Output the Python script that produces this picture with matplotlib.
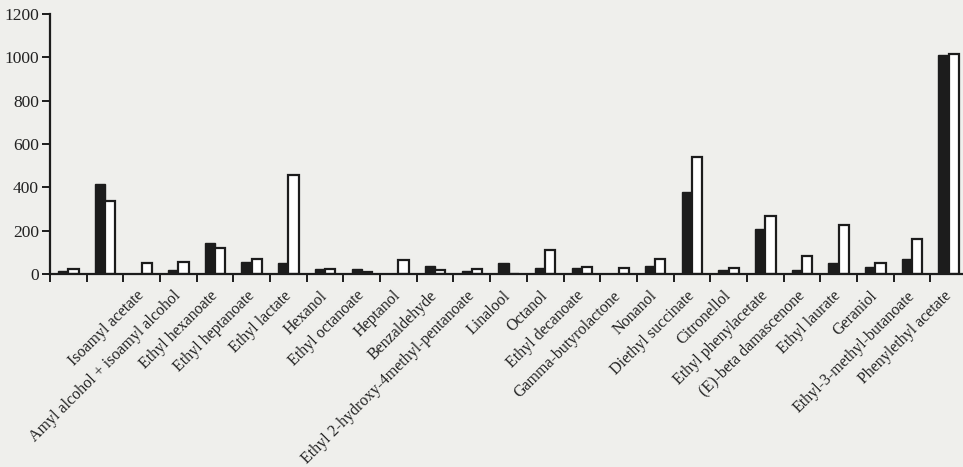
import matplotlib
matplotlib.use("Agg")
import matplotlib.pyplot as plt
import numpy as np

# Aroma compounds (the first two groups carry no name on the axis)
categories = [
    "", "",
    "Isoamyl acetate",
    "Amyl alcohol + isoamyl alcohol",
    "Ethyl hexanoate",
    "Ethyl heptanoate",
    "Ethyl lactate",
    "Hexanol",
    "Ethyl octanoate",
    "Heptanol",
    "Benzaldehyde",
    "Ethyl 2-hydroxy-4methyl-pentanoate",
    "Linalool",
    "Octanol",
    "Ethyl decanoate",
    "Gamma-butyrolactone",
    "Nonanol",
    "Diethyl succinate",
    "Citronellol",
    "Ethyl phenylacetate",
    "(E)-beta damascenone",
    "Ethyl laurate",
    "Geraniol",
    "Ethyl-3-methyl-butanoate",
    "Phenylethyl acetate",
]

# Concentrations for the two samples (filled and open bars)
series_black = [15, 415, 0, 20, 143, 57, 50, 24, 22, 0, 38, 15, 51,
                26, 26, 0, 38, 380, 18, 207, 18, 53, 34, 67, 1010]
series_white = [23, 338, 52, 54, 118, 68, 455, 22, 11, 63, 19, 25, 0,
                113, 32, 29, 69, 542, 30, 268, 84, 226, 53, 160, 1015]

y_ticks = [0, 200, 400, 600, 800, 1000, 1200]

bg = "#efefec"
ink = "#1c1c1c"

fig = plt.figure(figsize=(9.63, 4.67), dpi=100, facecolor=bg)
ax = fig.add_axes([50 / 963, (467 - 274) / 467, 917 / 963, 260 / 467])
ax.set_facecolor(bg)

n = len(categories)
centers = np.arange(n) + 0.5
w = 0.28

ax.bar(centers - w / 2, series_black, width=w, color=ink, edgecolor=ink,
       linewidth=1.0)
ax.bar(centers + w / 2, series_white, width=w, color="white", edgecolor=ink,
       linewidth=1.6)

ax.set_xlim(0, n)
ax.set_ylim(0, 1200)

for side in ("top", "right"):
    ax.spines[side].set_visible(False)
for side in ("left", "bottom"):
    ax.spines[side].set_linewidth(1.6)
    ax.spines[side].set_color(ink)

serif = ["Liberation Serif", "DejaVu Serif"]

ax.set_yticks(y_ticks)
ax.set_yticklabels([str(v) for v in y_ticks], family=serif, fontsize=12.5,
                   color="#222222")
ax.tick_params(axis="y", direction="out", length=6, width=1.4, color=ink,
               pad=2)

# Group boundaries carry the tick marks, group centres carry the names
ax.set_xticks(np.arange(n))
ax.set_xticklabels([])
ax.tick_params(axis="x", which="major", direction="out", length=6, width=1.4,
               color=ink)
ax.set_xticks(centers, minor=True)
ax.set_xticklabels(categories, minor=True, family=serif, fontsize=11.5,
                   color="#222222", rotation=45, ha="right", va="center",
                   rotation_mode="anchor")
ax.tick_params(axis="x", which="minor", length=0, pad=14)

fig.savefig("out.png", dpi=100, facecolor=bg)
